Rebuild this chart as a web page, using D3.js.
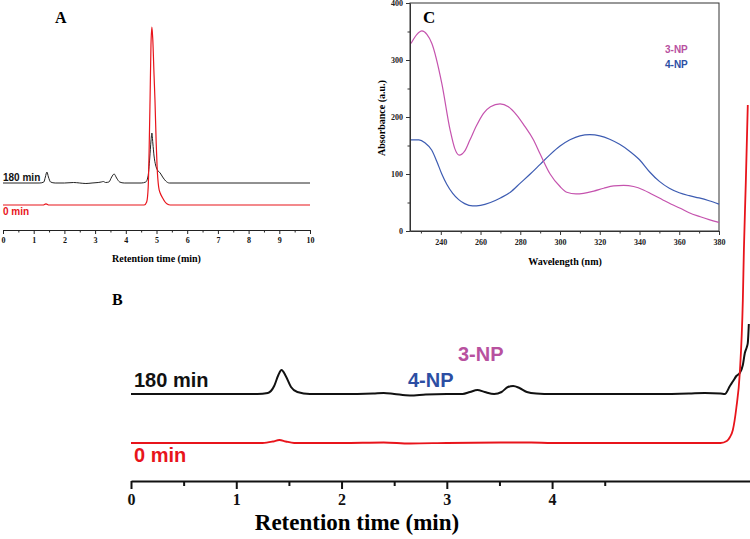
<!DOCTYPE html>
<html><head><meta charset="utf-8">
<script src="https://cdn.jsdelivr.net/npm/d3@7"></script>
<style>body{margin:0;background:#fff}svg{display:block}</style></head>
<body><svg id="chart" width="750" height="539"></svg>
<script>
// ---------- Panel A : full chromatogram ----------
const aTicks = [0,1,2,3,4,5,6,7,8,9,10];
const aBlackT = [0,1.2,1.33,1.38,1.43,1.48,1.55,1.7,2.0,2.3,2.5,2.7,2.9,3.1,3.2,3.27,3.34,3.45,3.54,3.62,3.7,3.8,3.95,4.5,4.65,4.72,4.78,4.82,4.85,4.88,4.92,4.97,5.03,5.12,5.2,5.3,5.42,10];
const aBlackV = [0,0,1,6,11,6,1,0,0,0.5,0,-0.5,0,0.5,1,1.5,0.5,1,6,9,5,1,0,0,1,6,25,42,50,40,27,18,13,10,6,2,0,0];
const aRedT = [0,1.3,1.4,1.5,4.6,4.68,4.73,4.76,4.79,4.82,4.85,4.88,4.92,4.95,4.99,5.02,5.07,5.12,5.2,5.28,5.35,5.45,10];
const aRedV = [0,0,1.2,0,0,3,18,55,105,160,178,165,130,105,62,38,18,12,7,3,1,0,0];
const aOffsets = [22, 0];          // 180 min, 0 min
const seriesLabels = ["180 min", "0 min"];

// ---------- Panel B : zoomed chromatogram ----------
const bTicks = [0,1,2,3,4];
const bMinor = [0.5,1.5,2.5,3.5,4.5];
const bBlackT = [0,1.2,1.3,1.36,1.4,1.43,1.47,1.52,1.58,1.7,2.0,2.3,2.4,2.5,2.65,2.8,3.0,3.15,3.22,3.29,3.36,3.45,3.52,3.58,3.63,3.69,3.76,3.85,4.0,4.5,5.0,5.3,5.45,5.6,5.641,5.689,5.72,5.75,5.783,5.812,5.831,5.85,5.859,5.869];
const bBlackV = [0,0,1,8,19,24,18,7,2,0,0,0.5,1,0,-1.5,-0.5,0,0,2,4,2,0,2,7,8,6,2,0.5,0,0,0,0.5,1,0.5,0,8,13,18,21,29,41,47,51,70];
const bRedT = [0,1.25,1.35,1.41,1.47,1.55,2.0,2.4,2.65,3.0,3.6,3.8,4.0,4.6,5.3,5.6,5.66,5.69,5.717,5.75,5.783,5.812,5.822,5.84,5.859];
const bRedV = [0,0,1.5,3,1.5,0,0,0.5,-0.5,0,0.5,0.5,0,0,0,0,2,6,13,35,70,143,193,260,338];
const bOffsets = [49, 0];
const peakLabels = ["4-NP", "3-NP"];

// ---------- Panel C : UV spectra ----------
const cXTicks = [240,260,280,300,320,340,360,380];
const cYTicks = [0,100,200,300,400];
const cWl3 = [225,228,230.5,233,235.5,240.5,244.7,247,249.3,252,254.7,258,261.4,265,269.8,274,278.3,282,286.6,290,295,300,303.4,308,311.8,317,322,327,332,337,342,346,352,356,360.5,365,370.6,375,380];
const cAbs3 = [329,345,351,345,329,259,177,145,133,140,160,185,206,218,223,218,203,185,160,135,100,78,68,65,66,70,75,79,80,78,72,65,54,47,40,32,25,20,15];
const cWl4 = [225,229,232,235.4,238,240.5,243,246,249,252,256,260,265,270,275,280,285,290,295,300,305,310,315,320,325,330,335,340,345,350,355,360,365,370,375,380];
const cAbs4 = [160,160,155,142,122,100,82,66,55,48,44,45,50,58,68,84,100,117,134,149,160,167,169,167,161,152,140,125,104,87,75,67,62,58,53,47];
const cNames = ["3-NP", "4-NP"];

const RED = "#e8141b", BLACK = "#111", MAG = "#c553ae", BLUE = "#3d5cb2";
const MAGT = "#b8519f", BLUET = "#2c4ea3";
const SERIF = "'Liberation Serif','Times New Roman',serif";
const SANS = "'Liberation Sans',Arial,sans-serif";

const svg = d3.select("#chart");
const zip = (t, v, off) => t.map((d, i) => [d, v[i] + off]);

// ===== Panel A =====
const xA = d3.scaleLinear().domain([0, 10]).range([3, 310]);
const yA = d3.scaleLinear().domain([0, 178]).range([205, 27]);
const gA = svg.append("g");
const lineA = d3.line().x(d => xA(d[0])).y(d => yA(d[1])).curve(d3.curveMonotoneX);
gA.append("path").datum(zip(aBlackT, aBlackV, aOffsets[0])).attr("d", lineA)
  .attr("fill", "none").attr("stroke", "#222").attr("stroke-width", 1);
gA.append("path").datum(zip(aRedT, aRedV, aOffsets[1])).attr("d", lineA)
  .attr("fill", "none").attr("stroke", RED).attr("stroke-width", 1.2);
const axA = gA.append("g").attr("transform", "translate(0,230)")
  .call(d3.axisBottom(xA).tickValues(aTicks).tickSize(4).tickSizeOuter(0).tickFormat(d3.format("d")));
gA.append("g").attr("transform", "translate(0,230)")
  .call(d3.axisBottom(xA).tickValues(d3.range(0.5, 10, 1)).tickSize(2.5).tickSizeOuter(0).tickFormat(""))
  .select(".domain").remove();
gA.selectAll(".tick line").attr("stroke", "#222");
axA.select(".domain").attr("stroke", "#222");
axA.selectAll("text").attr("y", 13).attr("dy", 0).style("font", `bold 8px ${SERIF}`).attr("fill", "#111");
gA.append("text").attr("x", xA(5)).attr("y", 262).attr("text-anchor", "middle")
  .style("font", `bold 10px ${SERIF}`).text("Retention time (min)");
gA.append("text").attr("x", 3).attr("y", 181).style("font", `bold 10px ${SANS}`).attr("fill", "#111").text(seriesLabels[0]);
gA.append("text").attr("x", 3).attr("y", 215).style("font", `bold 10px ${SANS}`).attr("fill", RED).text(seriesLabels[1]);
gA.append("text").attr("x", 55).attr("y", 23).style("font", `bold 16px ${SERIF}`).text("A");

// ===== Panel B =====
const xB = d3.scaleLinear().domain([0, 5.88]).range([131, 750]);
const yB = d3.scaleLinear().domain([0, 338]).range([443, 105]);
const gB = svg.append("g");
const lineB = d3.line().x(d => xB(d[0])).y(d => yB(d[1])).curve(d3.curveMonotoneX);
gB.append("path").datum(zip(bBlackT, bBlackV, bOffsets[0])).attr("d", lineB)
  .attr("fill", "none").attr("stroke", BLACK).attr("stroke-width", 2);
gB.append("path").datum(zip(bRedT, bRedV, bOffsets[1])).attr("d", lineB)
  .attr("fill", "none").attr("stroke", RED).attr("stroke-width", 1.8);
const axB = gB.append("g").attr("transform", "translate(0,481)")
  .call(d3.axisBottom(xB).tickValues(bTicks).tickSize(8).tickSizeOuter(0).tickFormat(d3.format("d")));
const axBm = gB.append("g").attr("transform", "translate(0,481)")
  .call(d3.axisBottom(xB).tickValues(bMinor).tickSize(5).tickSizeOuter(0).tickFormat(""));
axBm.select(".domain").remove();
axB.select(".domain").attr("stroke", "#111").attr("stroke-width", 2);
gB.selectAll(".tick line").attr("stroke", "#111").attr("stroke-width", 2);
axB.selectAll("text").attr("y", 24).attr("dy", 0).style("font", `bold 16px ${SERIF}`).attr("fill", "#111");
gB.append("text").attr("x", 357).attr("y", 530).attr("text-anchor", "middle")
  .style("font", `bold 23px ${SERIF}`).text("Retention time (min)");
gB.append("text").attr("x", 134).attr("y", 387).style("font", `bold 20px ${SANS}`).attr("fill", "#111").text(seriesLabels[0]);
gB.append("text").attr("x", 134).attr("y", 462).style("font", `bold 20px ${SANS}`).attr("fill", RED).text(seriesLabels[1]);
gB.append("text").attr("x", 408).attr("y", 387).style("font", `bold 20px ${SANS}`).attr("fill", BLUET).text(peakLabels[0]);
gB.append("text").attr("x", 458).attr("y", 361).style("font", `bold 20px ${SANS}`).attr("fill", MAGT).text(peakLabels[1]);
gB.append("text").attr("x", 112).attr("y", 305).style("font", `bold 16px ${SERIF}`).text("B");

// ===== Panel C =====
const xC = d3.scaleLinear().domain([224.5, 380]).range([410, 719]);
const yC = d3.scaleLinear().domain([0, 400]).range([231, 3]);
const gC = svg.append("g");
gC.append("rect").attr("x", 410).attr("y", 3).attr("width", 309).attr("height", 228)
  .attr("fill", "none").attr("stroke", "#333").attr("stroke-width", 1);
const lineC = d3.line().x(d => xC(d[0])).y(d => yC(d[1])).curve(d3.curveMonotoneX);
gC.append("path").datum(zip(cWl4, cAbs4, 0)).attr("d", lineC).attr("fill", "none").attr("stroke", BLUE).attr("stroke-width", 1.2);
gC.append("path").datum(zip(cWl3, cAbs3, 0)).attr("d", lineC).attr("fill", "none").attr("stroke", MAG).attr("stroke-width", 1.2);
const axCx = gC.append("g").attr("transform", "translate(0,231)")
  .call(d3.axisBottom(xC).tickValues(cXTicks).tickSize(4).tickSizeOuter(0));
gC.append("g").attr("transform", "translate(0,231)")
  .call(d3.axisBottom(xC).tickValues(d3.range(230, 380, 20)).tickSize(2.5).tickSizeOuter(0).tickFormat(""))
  .select(".domain").remove();
const axCy = gC.append("g").attr("transform", "translate(410,0)")
  .call(d3.axisLeft(yC).tickValues(cYTicks).tickSize(4).tickSizeOuter(0));
gC.append("g").attr("transform", "translate(410,0)")
  .call(d3.axisLeft(yC).tickValues([50,150,250,350]).tickSize(2.5).tickSizeOuter(0).tickFormat(""))
  .select(".domain").remove();
gC.selectAll(".domain").attr("stroke", "#333");
gC.selectAll(".tick line").attr("stroke", "#333");
axCx.selectAll("text").attr("y", 14).attr("dy", 0).style("font", `bold 8px ${SERIF}`).attr("fill", "#222");
axCy.selectAll("text").attr("x", -7).style("font", `bold 8px ${SERIF}`).attr("fill", "#222");
gC.append("text").attr("x", 565).attr("y", 265).attr("text-anchor", "middle")
  .style("font", `bold 10px ${SERIF}`).text("Wavelength (nm)");
gC.append("text").attr("transform", "translate(385,118) rotate(-90)").attr("text-anchor", "middle")
  .style("font", `bold 10px ${SERIF}`).text("Absorbance (a.u.)");
gC.append("text").attr("x", 423).attr("y", 23).style("font", `bold 17px ${SERIF}`).text("C");
gC.append("text").attr("x", 665).attr("y", 53).style("font", `bold 10px ${SANS}`).attr("fill", MAGT).text(cNames[0]);
gC.append("text").attr("x", 665).attr("y", 68).style("font", `bold 10px ${SANS}`).attr("fill", BLUET).text(cNames[1]);
</script></body></html>
